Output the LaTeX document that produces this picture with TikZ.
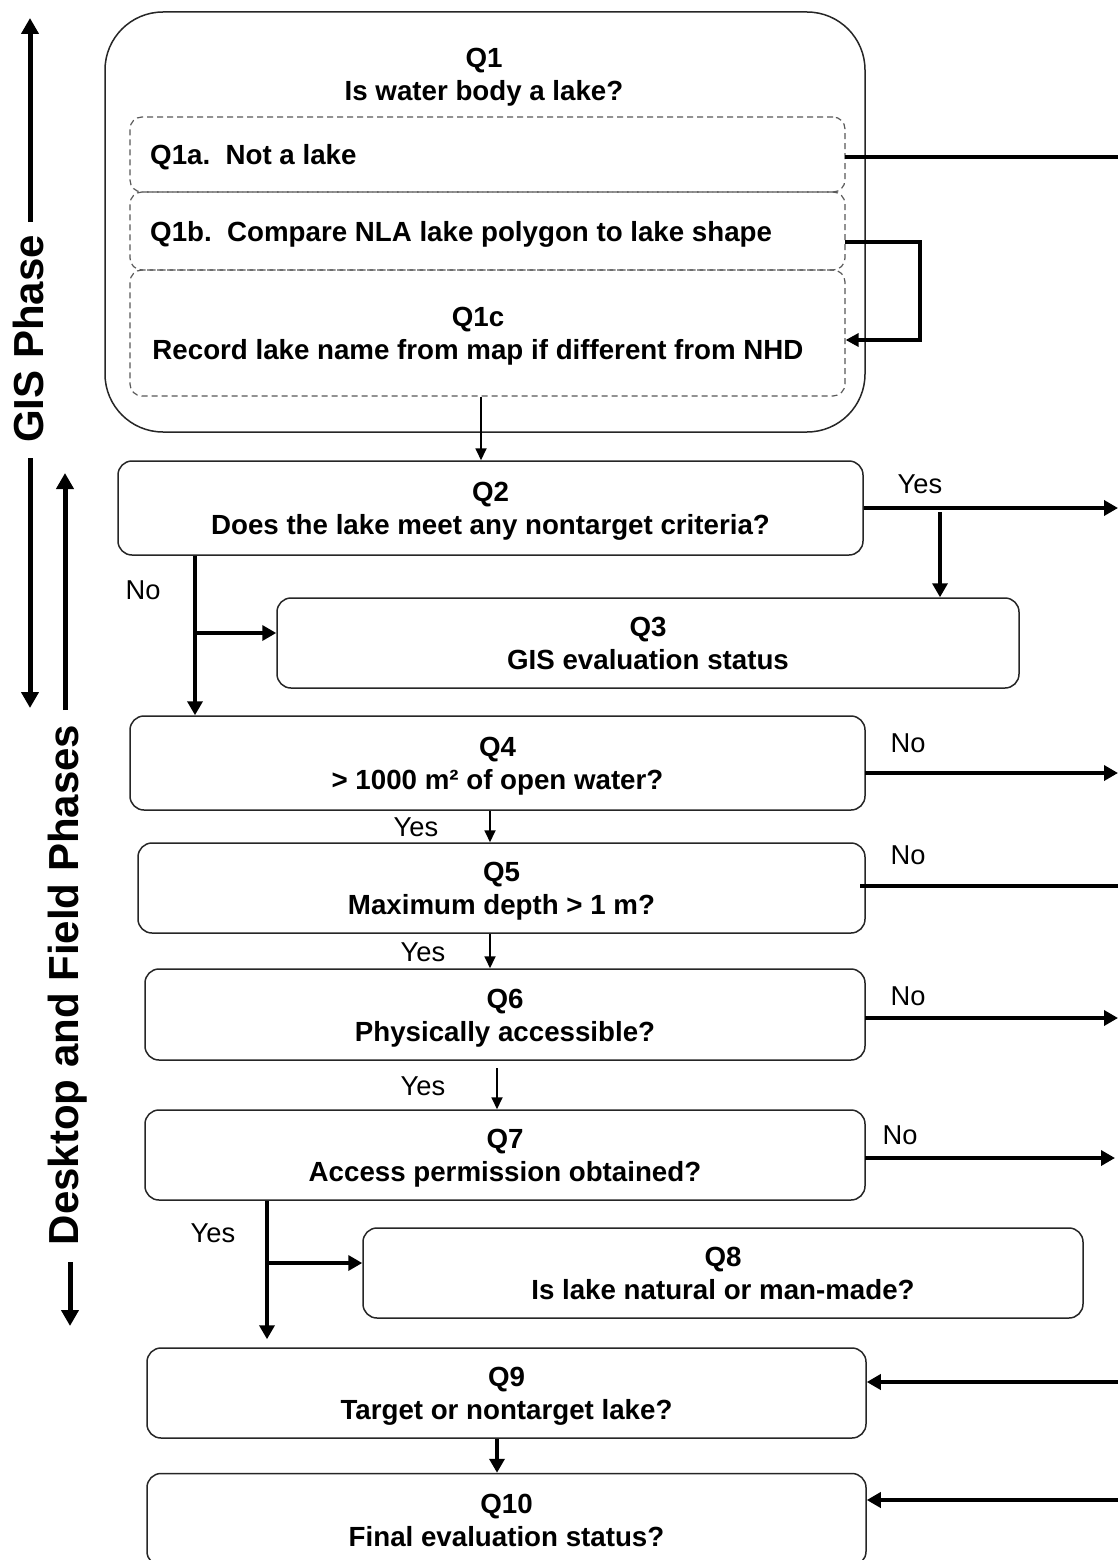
\documentclass[tikz,border=0pt]{standalone}
\usepackage{fontspec}
\setmainfont{Liberation Sans}
\usetikzlibrary{arrows.meta,calc}

\newcommand\qfont{\fontsize{27.7}{33}\selectfont\bfseries}
\newcommand\lblfont{\fontsize{27.3}{33}\selectfont}
\newcommand\phasefont{\fontsize{42}{48}\selectfont\bfseries}
% fixed first-line height and last-line depth so two-line box texts sit centred
\newcommand\qs{\rule{0pt}{26pt}}
\newcommand\qd{\rule[-6pt]{0pt}{6pt}}

\begin{document}
\begin{tikzpicture}[x=1pt,y=-1pt,
  qbox/.style={draw=black!85, line width=1.5pt, rounded corners=14pt,
    inner sep=0pt, align=center, font=\qfont},
  subbox/.style={draw=black!65, dash pattern=on 6pt off 4pt, line width=1.2pt,
    rounded corners=12pt, inner sep=0pt},
  qtext/.style={font=\qfont, inner sep=0pt, align=center},
  lbl/.style={font=\lblfont, inner sep=0pt},
  bigarrow/.style={line width=4.5pt, -{Triangle[length=14pt,width=15pt]}},
  bigline/.style={line width=4.5pt},
  thinarrow/.style={line width=1.8pt, -{Triangle[length=12pt,width=11pt]}},
  phasearrow/.style={line width=5pt, -{Triangle[length=16pt,width=17pt]}}
]
\useasboundingbox (0,0) rectangle (1118,1560);
\clip (0,0) rectangle (1118,1560);
\fill[white] (0,0) rectangle (1118,1560);

% right margin reference
\coordinate (R) at (1118,0);

% ---------- GIS phase group ----------
\node[draw=black!85, line width=1.5pt, rounded corners=58pt,
  minimum width=760pt, minimum height=420pt, inner sep=0pt] (q1) at (485,222) {};
\node[qtext] (q1t) at (484,77.5) {Q1\\Is water body a lake?};

\node[subbox, minimum width=715pt, minimum height=75pt] (q1a) at (487.5,154.5) {};
\node[font=\qfont, inner sep=0pt, anchor=mid west] (q1atext) at (150,161.5) {Q1a.\ \ Not a lake};

\node[subbox, minimum width=715pt, minimum height=78pt] (q1b) at (487.5,231) {};
\node[font=\qfont, inner sep=0pt, anchor=mid west] (q1btext) at (150,238.5) {Q1b.\ \ Compare NLA lake polygon to lake shape};

\node[subbox, minimum width=715pt, minimum height=126pt] (q1c) at (487.5,333) {};
\node[qtext] (q1ctext) at (478,336) {Q1c\\Record lake name from map if different from NHD};

% ---------- desktop and field phases ----------
\node[qbox, minimum width=745pt, minimum height=94pt] (q2) at (490.5,508) {\qs Q2\\Does the lake meet any nontarget criteria?\qd};
\node[qbox, minimum width=742pt, minimum height=90pt] (q3) at (648,643) {\qs Q3\\GIS evaluation status\qd};
\node[qbox, minimum width=735pt, minimum height=94pt] (q4) at (497.5,763) {\qs Q4\\> 1000 m² of open water?\qd};
\node[qbox, minimum width=727pt, minimum height=90pt] (q5) at (501.5,888) {\qs Q5\\Maximum depth > 1 m?\qd};
\node[qbox, minimum width=720pt, minimum height=91pt] (q6) at (505,1014.5) {\qs Q6\\Physically accessible?\qd};
\node[qbox, minimum width=720pt, minimum height=90pt] (q7) at (505,1155) {\qs Q7\\Access permission obtained?\qd};
\node[qbox, minimum width=720pt, minimum height=90pt] (q8) at (723,1273) {\qs Q8\\Is lake natural or man-made?\qd};
\node[qbox, minimum width=719pt, minimum height=90pt] (q9) at (506.5,1393) {\qs Q9\\Target or nontarget lake?\qd};
\node[qbox, minimum width=719pt, minimum height=92pt] (q10) at (506.5,1519.5) {\qs Q10\\Final evaluation status?\qd};

% ---------- connectors inside the GIS group ----------
\coordinate (q1aout) at (845,157);
\draw[bigline] (q1aout) -- (q1aout -| R);
\coordinate (loopstart) at (845,242);
\coordinate (loopend) at (920,340);
\draw[line width=4pt, -{Triangle[length=13pt,width=13pt]}]
  (loopstart) -| (loopend) -- (loopend -| q1c.east);
\coordinate (c12) at (481,0);
\draw[thinarrow] (c12 |- q1c.south) -- (c12 |- q2.north);

% ---------- Q2 ----------
\draw[bigarrow] (q2.east) -- (q2.east -| R);
\node[lbl] (yes2) at (920,484) {Yes};
\coordinate (yb2) at (940,512);
\draw[bigarrow] (yb2) -- (yb2 |- q3.north);

\coordinate (nb2) at (195,633);
\draw[bigarrow] (nb2 |- q2.south) -- (nb2 |- q4.north);
\draw[bigarrow] (nb2) -- (nb2 -| q3.west);
\node[lbl] (no2) at (143,590) {No};

% ---------- Q4 ----------
\coordinate (o4) at (865,773);
\draw[bigarrow] (o4) -- (o4 -| R);
\node[lbl] (no4) at (908,743) {No};
\coordinate (c45) at (490,0);
\draw[thinarrow] (c45 |- q4.south) -- (c45 |- q5.north);
\node[lbl] (yes4) at (416,827) {Yes};

% ---------- Q5 ----------
\coordinate (o5) at (860,886);
\draw[bigline] (o5) -- (o5 -| R);
\node[lbl] (no5) at (908,855) {No};
\draw[thinarrow] (c45 |- q5.south) -- (c45 |- q6.north);
\node[lbl] (yes5) at (423,952) {Yes};

% ---------- Q6 ----------
\coordinate (o6) at (865,1018);
\draw[bigarrow] (o6) -- (o6 -| R);
\node[lbl] (no6) at (908,996) {No};
\coordinate (c67) at (497,1068);
\draw[thinarrow] (c67) -- (c67 |- q7.north);
\node[lbl] (yes6) at (423,1086) {Yes};

% ---------- Q7 ----------
\coordinate (o7) at (865,1158);
\draw[bigarrow] (o7) -- (1115,1158);
\node[lbl] (no7) at (900,1135) {No};
\coordinate (yb7) at (267,1263);
\draw[bigarrow] (yb7 |- q7.south) -- ($(yb7 |- q9.north)+(0,-8)$);
\draw[bigarrow] (yb7) -- (yb7 -| q8.west);
\node[lbl] (yes7) at (213,1233) {Yes};

% ---------- Q9 and Q10 ----------
\coordinate (in9) at (1118,1382);
\draw[bigarrow] (in9) -- (in9 -| q9.east);
\coordinate (c910) at (497,0);
\draw[bigarrow] (c910 |- q9.south) -- (c910 |- q10.north);
\coordinate (in10) at (1118,1500);
\draw[bigarrow] (in10) -- (in10 -| q10.east);

% ---------- phase markers ----------
\node[font=\phasefont, rotate=90, inner sep=0pt] (gis) at (28,339) {GIS Phase};
\coordinate (gisup) at (30,222);
\coordinate (gisdown) at (30,458);
\draw[phasearrow] (gisup) -- (30,18);
\draw[phasearrow] (gisdown) -- (30,708);

\node[font=\phasefont, rotate=90, inner sep=0pt] (desk) at (68,985) {Desktop and Field Phases};
\coordinate (deskup) at (65,710);
\coordinate (deskdown) at (70,1262);
\draw[phasearrow] (deskup) -- (65,473);
\draw[phasearrow] (deskdown) -- (70,1326);
\end{tikzpicture}
\end{document}
